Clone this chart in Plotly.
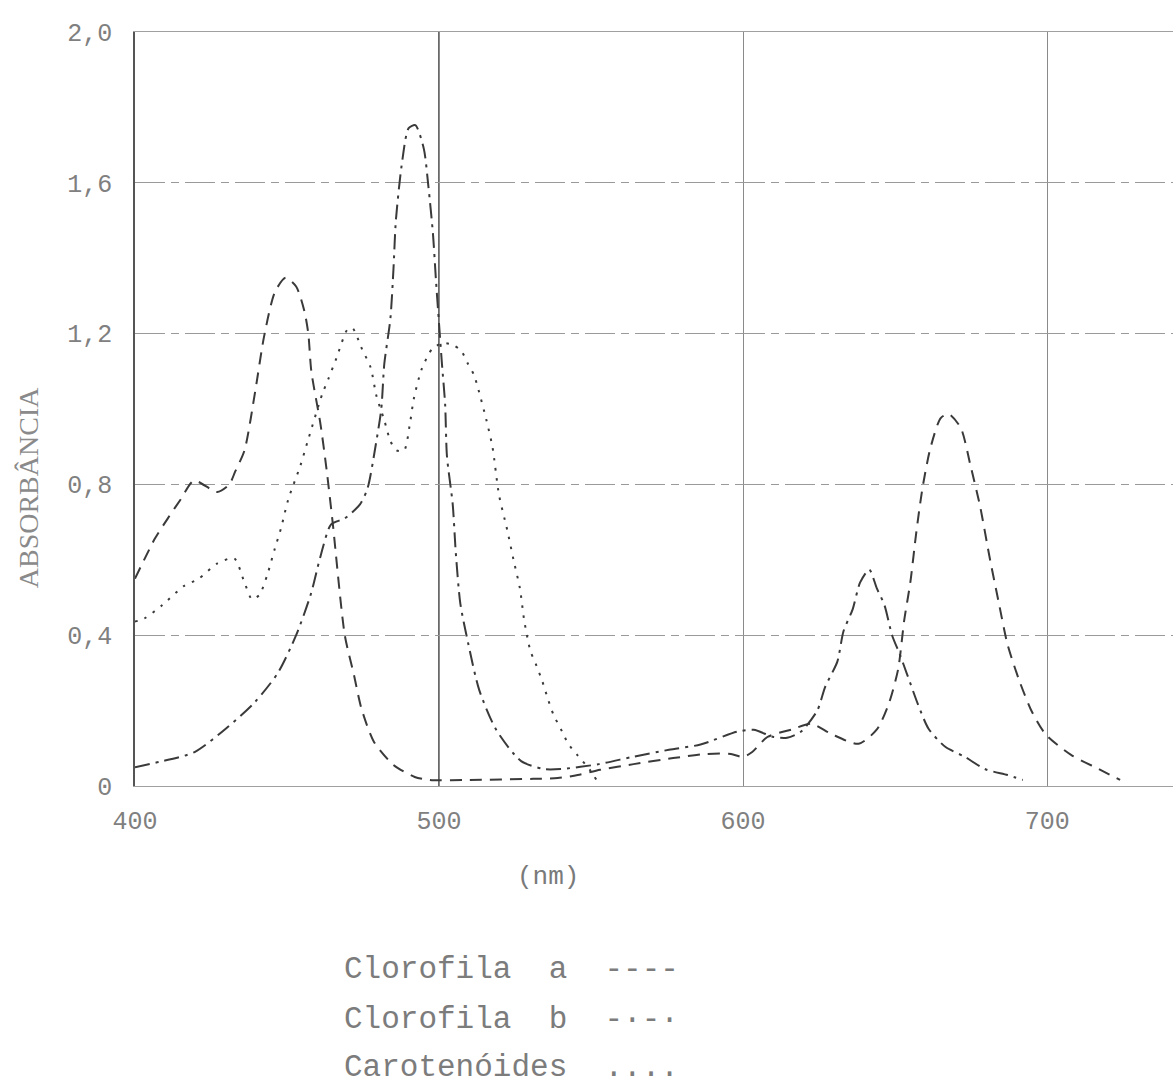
import plotly.graph_objects as go

# Absorption spectra of photosynthetic pigments (wavelength in nm, absorbance)
chl_a_nm = [400, 406.6, 410.8, 415, 419.4, 427, 431, 433, 436, 439.6,
            442.4, 446, 449.5, 453, 455.7, 457, 458, 461, 463, 465,
            469, 472, 474.5, 478.6, 485, 492, 497, 510, 531, 539,
            545.6, 553, 564, 577, 588, 596, 600, 603, 608, 616,
            622.5, 629, 638, 644, 648, 651, 653, 655, 657, 659,
            661.6, 665, 667.6, 671.6, 674.8, 678, 681, 684, 687, 691,
            695, 699.6, 708, 717, 724]
chl_a_abs = [0.55, 0.657, 0.71, 0.76, 0.81, 0.78, 0.80, 0.835, 0.89, 1.05,
             1.19, 1.31, 1.348, 1.325, 1.26, 1.20, 1.10, 0.96, 0.84, 0.70,
             0.40, 0.295, 0.205, 0.117, 0.056, 0.024, 0.016, 0.016, 0.019, 0.021,
             0.029, 0.043, 0.058, 0.074, 0.085, 0.085, 0.077, 0.09, 0.13, 0.15,
             0.165, 0.138, 0.112, 0.15, 0.22, 0.31, 0.44, 0.54, 0.675, 0.79,
             0.896, 0.976, 0.987, 0.95, 0.85, 0.74, 0.61, 0.49, 0.375, 0.276,
             0.197, 0.136, 0.082, 0.045, 0.016]

chl_b_nm = [400, 408, 419.6, 430.6, 439.5, 447, 453, 457.8, 461, 464.5,
            469, 474, 476.5, 479, 481, 482, 484, 485, 485.8, 487.7,
            490, 492.2, 495, 496.5, 498, 499, 500, 501, 502, 502.6,
            504.5, 505.5, 507, 509.6, 513.2, 518.8, 527, 534.5, 540, 552.6,
            563.5, 575.6, 586, 598, 603.5, 610, 614.5, 619, 624.4, 627,
            631, 633, 636, 638.5, 641.5, 644, 646.5, 649, 651.5, 654,
            657.6, 661, 666.5, 673, 679.5, 687, 692]
chl_b_abs = [0.05, 0.064, 0.09, 0.157, 0.223, 0.30, 0.40, 0.508, 0.609, 0.694,
             0.71, 0.747, 0.79, 0.896, 1.0, 1.12, 1.24, 1.37, 1.50, 1.646,
             1.745, 1.753, 1.69, 1.59, 1.465, 1.34, 1.226, 1.115, 1.013, 0.875,
             0.747, 0.62, 0.484, 0.378, 0.255, 0.149, 0.066, 0.045, 0.045, 0.058,
             0.077, 0.096, 0.11, 0.144, 0.149, 0.13, 0.128, 0.144, 0.20, 0.263,
             0.33, 0.41, 0.468, 0.54, 0.574, 0.524, 0.48, 0.40, 0.35, 0.295,
             0.215, 0.152, 0.104, 0.077, 0.045, 0.029, 0.016]

car_nm = [400, 403, 409, 416, 421, 427, 432.6, 436, 438.5, 441,
          443.5, 446, 448, 450.4, 454.4, 457, 461.6, 463.6, 466.3, 469.8,
          471.5, 474.6, 477.5, 479.4, 482, 484, 486, 488.5, 490.4, 491.7,
          494.3, 497.8, 501.3, 504.6, 507.3, 509.5, 511.5, 513, 515.6, 517.6,
          519.7, 522.4, 524.5, 526.6, 528, 530, 532, 534, 535.8, 537.6,
          540.5, 542.5, 545.7, 549.6, 552]
car_abs = [0.436, 0.444, 0.48, 0.53, 0.55, 0.59, 0.604, 0.54, 0.495, 0.508,
           0.56, 0.63, 0.683, 0.76, 0.85, 0.92, 1.04, 1.08, 1.136, 1.21,
           1.215, 1.16, 1.11, 1.035, 0.97, 0.915, 0.89, 0.89, 0.96, 1.027,
           1.106, 1.16, 1.175, 1.17, 1.154, 1.12, 1.09, 1.05, 0.97, 0.898,
           0.773, 0.68, 0.60, 0.524, 0.44, 0.36, 0.32, 0.277, 0.231, 0.19,
           0.144, 0.112, 0.08, 0.043, 0.013]

x_ticks = [400, 500, 600, 700]
x_tick_text = ["400", "500", "600", "700"]
y_ticks = [0, 0.4, 0.8, 1.2, 1.6, 2.0]
y_tick_text = ["0", "0,4", "0,8", "1,2", "1,6", "2,0"]

legend_names = ["Clorofila  a", "Clorofila  b", "Carotenóides"]
legend_keys = ["----", "-·-·", "...."]

MONO = "Liberation Mono, Courier New, monospace"
SERIF = "Liberation Serif, Times New Roman, serif"
INK = "#3a3a3a"

fig = go.Figure()
series = [
    (chl_a_nm, chl_a_abs, "12px,8px"),
    (chl_b_nm, chl_b_abs, "15px,6px,3px,6px"),
    (car_nm, car_abs, "2.5px,7.5px"),
]
for (xs, ys, dash), name in zip(series, legend_names):
    fig.add_trace(go.Scatter(
        x=xs, y=ys, mode="lines", name=name, showlegend=False,
        line=dict(color=INK, width=2, dash=dash, shape="spline", smoothing=0.7),
        hoverinfo="x+y",
    ))

# darker vertical rule at 500 nm
fig.add_shape(type="line", xref="x", yref="paper",
              x0=x_ticks[1], x1=x_ticks[1], y0=0, y1=1,
              line=dict(color="#3a3a3a", width=1.6), layer="below")

fig.update_layout(
    width=1173, height=1084,
    margin=dict(l=135, r=0, t=32, b=298),
    paper_bgcolor="white", plot_bgcolor="white",
    font=dict(family=MONO, color="#7a7a7a"),
    xaxis=dict(
        range=[400, 741.4], tickmode="array", tickvals=x_ticks, ticktext=x_tick_text,
        showgrid=True, gridcolor="#8a8a8a", gridwidth=1,
        showline=True, mirror=True, linecolor="#a0a0a0", linewidth=1.2,
        zeroline=False, ticks="", ticklabelstandoff=12,
        tickfont=dict(family=MONO, size=25, color="#808080"),
    ),
    yaxis=dict(
        range=[0, 2.0], tickmode="array", tickvals=y_ticks, ticktext=y_tick_text,
        showgrid=True, gridcolor="#9a9a9a", gridwidth=1.2, griddash="30px,6px,8px,6px",
        showline=True, linecolor="#555555", linewidth=1.6,
        zeroline=False, ticks="", ticklabelstandoff=16,
        tickfont=dict(family=MONO, size=25, color="#808080"),
    ),
)

annotations = [
    dict(text="(nm)", x=0.398, y=-0.1207, xref="paper", yref="paper",
         xanchor="center", yanchor="middle", showarrow=False,
         font=dict(family=MONO, size=26, color="#7a7a7a")),
    dict(text="ABSORBÂNCIA", x=-0.103, y=0.395, xref="paper", yref="paper",
         xanchor="center", yanchor="middle", showarrow=False, textangle=-90,
         font=dict(family=SERIF, size=28, color="#8a8a8a")),
]
legend_rows_y = [-0.244, -0.3103, -0.374]
for name, key, yy in zip(legend_names, legend_keys, legend_rows_y):
    label = (name + "  " + key).replace(" ", "\u00a0")
    annotations.append(dict(
        text=label, x=0.1994, y=yy, xref="paper", yref="paper",
        xanchor="left", yanchor="middle", showarrow=False,
        font=dict(family=MONO, size=31, color="#7c7c7c"),
    ))
fig.update_layout(annotations=annotations)

fig.write_html("out.html")
